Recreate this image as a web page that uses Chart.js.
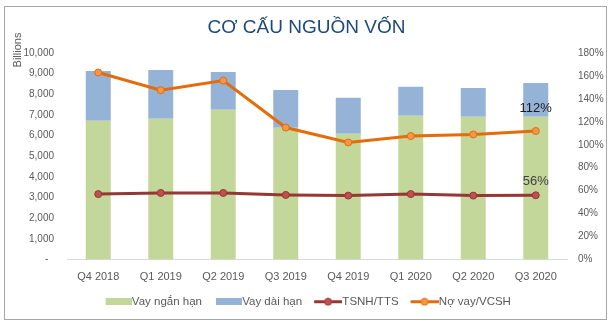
<!DOCTYPE html>
<html>
<head>
<meta charset="utf-8">
<script src="https://cdn.jsdelivr.net/npm/chart.js@4.4.1/dist/chart.umd.min.js"></script>
<style>
  html, body { margin: 0; padding: 0; background: #fff; }
  #wrap { width: 613px; height: 325px; }
</style>
</head>
<body>
<div id="wrap"><canvas id="chart" width="613" height="325"></canvas></div>
<script>
const quarters = ['Q4 2018', 'Q1 2019', 'Q2 2019', 'Q3 2019', 'Q4 2019', 'Q1 2020', 'Q2 2020', 'Q3 2020'];

// tỷ đồng
const shortTermLoans = [6720, 6810, 7250, 6380, 6090, 6960, 6910, 6910];
const longTermLoans = [2410, 2370, 1830, 1830, 1740, 1400, 1400, 1640];

// %
const currentAssetRatio = [57, 58, 58, 56.3, 55.7, 57, 55.7, 56];
const debtToEquity = [163, 147.6, 156, 115, 102, 107.6, 109, 112];

const leftTicks = [0, 1000, 2000, 3000, 4000, 5000, 6000, 7000, 8000, 9000, 10000];
const rightTicks = [0, 20, 40, 60, 80, 100, 120, 140, 160, 180];

const GREEN = '#C4D79B';
const BLUE = '#95B3D7';
const RED_LINE = '#953735';
const RED_DOT = '#C0504D';
const ORANGE_LINE = '#E46C0A';
const ORANGE_DOT = '#F79646';
const TEXT = '#595959';

Chart.defaults.font.family = "'Liberation Sans', Arial, sans-serif";
Chart.defaults.color = TEXT;

// legend swatches, all 35px wide with the visible part pushed to the right
// so it sits right up against the label text
const SWATCH_W = 35;
function barSwatch(color) {
    const c = document.createElement('canvas');
    c.width = SWATCH_W; c.height = 7;
    const g = c.getContext('2d');
    g.fillStyle = color;
    g.fillRect(SWATCH_W - 26, 0, 26, 7);
    return c;
}
function lineSwatch(line, dot) {
    const c = document.createElement('canvas');
    c.width = SWATCH_W; c.height = 9;
    const g = c.getContext('2d');
    const x0 = SWATCH_W - 28;
    g.strokeStyle = line;
    g.lineWidth = 3;
    g.beginPath(); g.moveTo(x0, 4.5); g.lineTo(SWATCH_W, 4.5); g.stroke();
    g.fillStyle = dot;
    g.strokeStyle = line;
    g.lineWidth = 1;
    g.beginPath(); g.arc(x0 + 14, 4.5, 3.5, 0, Math.PI * 2); g.fill(); g.stroke();
    return c;
}

// labels on the last point of each ratio line
const endLabels = [
    { dataset: 2, index: 7, color: '#404040', lift: 14 },
    { dataset: 3, index: 7, color: '#1a1a1a', lift: 23 }
];

const decorations = {
    id: 'decorations',
    beforeDraw(chart) {
        const ctx = chart.ctx;
        ctx.save();
        ctx.strokeStyle = '#A6A6A6';
        ctx.lineWidth = 1;
        ctx.strokeRect(4.5, 6.5, 602, 313);
        ctx.restore();
    },
    afterDraw(chart) {
        const ctx = chart.ctx;
        ctx.save();
        ctx.translate(18, 50);
        ctx.rotate(-Math.PI / 2);
        ctx.font = "11px 'Liberation Sans', Arial, sans-serif";
        ctx.fillStyle = TEXT;
        ctx.textAlign = 'center';
        ctx.textBaseline = 'middle';
        ctx.fillText('Billions', 0, 0);
        ctx.restore();
    },
    afterDatasetsDraw(chart) {
        const ctx = chart.ctx;
        ctx.save();
        ctx.font = "13px 'Liberation Sans', Arial, sans-serif";
        ctx.textAlign = 'center';
        ctx.textBaseline = 'middle';
        endLabels.forEach(l => {
            const pt = chart.getDatasetMeta(l.dataset).data[l.index];
            const v = chart.data.datasets[l.dataset].data[l.index];
            ctx.fillStyle = l.color;
            ctx.fillText(Math.round(v) + '%', pt.x, pt.y - l.lift);
        });
        ctx.restore();
    }
};

new Chart(document.getElementById('chart'), {
    type: 'bar',
    data: {
        labels: quarters,
        datasets: [
            { label: 'Vay ngắn hạn', data: shortTermLoans, backgroundColor: GREEN, yAxisID: 'y', order: 2,
              barPercentage: 0.4, categoryPercentage: 1, swatch: barSwatch(GREEN) },
            { label: 'Vay dài hạn', data: longTermLoans, backgroundColor: BLUE, yAxisID: 'y', order: 2,
              barPercentage: 0.4, categoryPercentage: 1, swatch: barSwatch(BLUE) },
            { type: 'line', label: 'TSNH/TTS', data: currentAssetRatio, yAxisID: 'y1', order: 1,
              borderColor: RED_LINE, borderWidth: 3, pointRadius: 3.5, pointBorderWidth: 1,
              pointBackgroundColor: RED_DOT, pointBorderColor: RED_LINE, tension: 0,
              swatch: lineSwatch(RED_LINE, RED_DOT) },
            { type: 'line', label: 'Nợ vay/VCSH', data: debtToEquity, yAxisID: 'y1', order: 1,
              borderColor: ORANGE_LINE, borderWidth: 3, pointRadius: 3.5, pointBorderWidth: 1,
              pointBackgroundColor: ORANGE_DOT, pointBorderColor: ORANGE_LINE, tension: 0,
              swatch: lineSwatch(ORANGE_LINE, ORANGE_DOT) }
        ]
    },
    options: {
        responsive: false,
        devicePixelRatio: 1,
        animation: false,
        layout: { padding: { top: 0, left: 0, right: 0, bottom: 7.5 } },
        plugins: {
            title: {
                display: true,
                text: 'CƠ CẤU NGUỒN VỐN',
                color: '#1F497D',
                font: { size: 19, weight: 'normal' },
                padding: { top: 16.6, bottom: 13.6 }
            },
            legend: {
                position: 'bottom',
                labels: {
                    usePointStyle: true,
                    pointStyleWidth: 24,
                    padding: 10.5,
                    color: TEXT,
                    font: { size: 11.5 },
                    generateLabels: chart => chart.data.datasets.map((ds, i) => ({
                        text: ds.label,
                        pointStyle: ds.swatch,
                        fillStyle: 'transparent',
                        strokeStyle: 'transparent',
                        lineWidth: 0,
                        fontColor: TEXT,
                        hidden: false,
                        datasetIndex: i
                    }))
                }
            },
            tooltip: { enabled: false }
        },
        scales: {
            x: {
                stacked: true,
                grid: { display: false, drawTicks: false },
                border: { display: true, color: '#D9D9D9', width: 1 },
                ticks: { color: TEXT, font: { size: 11 }, padding: 11, maxRotation: 0, autoSkip: false },
                afterFit: s => { s.height = 26; }
            },
            y: {
                stacked: true,
                position: 'left',
                min: 0,
                max: 10000,
                grid: { display: false, drawTicks: false },
                border: { display: false },
                ticks: {
                    color: TEXT,
                    font: { size: 10 },
                    padding: 13,
                    callback: v => v === 0 ? '-  ' : v.toLocaleString('en-US')
                },
                afterBuildTicks: s => { s.ticks = leftTicks.map(v => ({ value: v })); },
                afterFit: s => { s.width = 67; }
            },
            y1: {
                position: 'right',
                min: 0,
                max: 180,
                grid: { display: false, drawTicks: false },
                border: { display: false },
                ticks: {
                    color: TEXT,
                    font: { size: 10 },
                    padding: 11,
                    callback: v => v + '%'
                },
                afterBuildTicks: s => { s.ticks = rightTicks.map(v => ({ value: v })); },
                afterFit: s => { s.width = 46; }
            }
        }
    },
    plugins: [decorations]
});
</script>
</body>
</html>
